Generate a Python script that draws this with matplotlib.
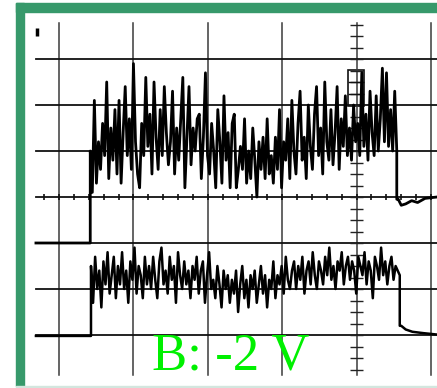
import numpy as np
import matplotlib
matplotlib.use('Agg')
import matplotlib.pyplot as plt
from matplotlib.patches import Rectangle

# scope screen, units are graticule divisions
# (x: 0 = first vertical line, y: 0 = centre line)
vlines_x = [0, 1, 2, 3, 4, 5]
hlines_y = [3, 2, 1, 0, -1, -2, -3]

# trace A (upper), baseline before / after the burst
a_start, a_end = 0.42, 4.54
a_base = -1.0
a_noise = [1.0, 0.1, 2.1, 0.3, 1.2, 0.6, 1.6, 0.9, 2.5, 0.4,
           1.5, 0.8, 1.9, 0.5, 2.1, 0.3, 1.4, 2.4, 0.9, 1.7,
           0.6, 2.9, 1.2, 0.5, 0.2, 1.6, 0.9, 2.6, 1.1, 1.8,
           0.5, 2.5, 1.3, 0.6, 1.9, 0.9, 2.4, 1.4, 0.7, 1.2,
           2.3, 0.5, 1.5, 0.8, 1.7, 2.6, 0.2, 1.3, 2.4, 0.7,
           1.5, 1.0, 1.7, 1.8, 0.4, 1.3, 2.7, 0.9, 0.5, 1.6,
           1.0, 0.2, 1.9, 1.2, 0.3, 2.2, 0.8, 1.4, 0.2, 1.6,
           1.8, 0.2, 0.6, 1.1, 0.6, 1.7, 0.3, 1.0, 0.4, 1.5,
           0.8, 0.0, 1.2, 0.6, 1.3, 0.4, 1.7, 0.5, 0.9, 0.3,
           1.3, 0.6, 1.9, 0.2, 1.2, 0.8, 1.7, 0.4, 2.1, 1.0,
           0.5, 1.6, 2.3, 0.8, 1.3, 0.4, 2.0, 1.1, 0.6, 1.8,
           2.4, 0.9, 1.5, 0.5, 2.5, 1.2, 0.8, 1.9, 0.7, 1.4,
           2.4, 0.6, 1.7, 1.1, 2.2, 0.9, 1.5, 0.8, 2.0, 1.2,
           1.6, 0.9, 2.7, 1.1, 1.8, 0.8, 2.3, 1.4, 0.9, 2.2,
           1.0, 1.7, 2.8, 1.2, 2.7, 1.1, 1.9, 1.0, 2.3, 1.0]
a_tail_x = [4.56, 4.60, 4.66, 4.74, 4.82, 4.92, 5.08]
a_tail_y = [-0.05, -0.18, -0.15, -0.08, -0.12, -0.03, 0.0]

# trace B (lower)
b_start, b_end = 0.43, 4.58
b_base = -3.02
b_noise = [-1.5, -2.3, -1.3, -2.0, -1.6, -2.4, -1.4, -1.9, -1.2, -2.1,
           -1.7, -1.3, -2.2, -1.5, -1.9, -1.2, -2.0, -1.6, -2.3, -1.4,
           -1.8, -1.1, -2.1, -1.5, -1.7, -2.2, -1.3, -1.9, -1.5, -2.0,
           -1.3, -1.8, -2.2, -1.4, -1.1, -1.9, -1.6, -2.1, -1.3, -1.8,
           -1.5, -2.3, -1.2, -1.7, -2.0, -1.4, -1.9, -1.6, -2.2, -1.5,
           -1.8, -1.3, -2.1, -1.6, -1.4, -2.3, -1.7, -1.2, -2.0, -1.8,
           -2.2, -1.5, -1.9, -2.4, -1.6, -2.0, -1.7, -2.3, -1.8, -2.1,
           -1.6, -2.5, -1.9, -1.5, -2.2, -1.8, -2.4, -1.7, -2.0, -1.6,
           -2.3, -1.9, -1.5, -2.1, -1.7, -2.4, -1.8, -2.0, -1.4, -2.2,
           -1.7, -1.9, -1.5, -2.1, -1.3, -1.8, -2.0, -1.6, -1.4, -2.0,
           -1.5, -1.8, -1.3, -2.1, -1.6, -1.4, -1.9, -1.2, -1.7, -2.0,
           -1.4, -1.6, -1.9, -1.3, -1.7, -1.1, -1.8, -1.5, -2.0, -1.4,
           -1.6, -1.2, -1.9, -1.5, -1.3, -1.8, -1.4, -1.6, -2.1, -1.3,
           -1.5, -1.7, -1.2, -1.9, -1.4, -1.6, -2.2, -1.3, -1.5, -1.8,
           -1.1, -1.7, -1.4, -1.9, -1.5, -1.3, -1.8, -1.5, -1.6, -1.7]
b_tail_x = [4.60, 4.66, 4.75, 4.90, 5.08]
b_tail_y = [-2.80, -2.88, -2.93, -2.96, -2.99]

label = 'B: -2 V'

W, H = 437, 388
fig = plt.figure(figsize=(W / 100, H / 100), dpi=100)
ax = fig.add_axes([0, 0, 1, 1])
ax.set_xlim(-59 / 74.4, (W - 59) / 74.4)
ax.set_ylim((197 - H) / 46, 197 / 46)
ax.axis('off')

# green frame
green = '#37996b'
fig.patches.append(Rectangle((16 / W, (H - 12) / H), 1 - 16 / W, 9 / H,
                             transform=fig.transFigure, color=green))
fig.patches.append(Rectangle((16 / W, 2 / H), 8 / W, (H - 5) / H,
                             transform=fig.transFigure, color=green))
fig.patches.append(Rectangle((16 / W, 0), 1 - 16 / W, 2 / H,
                             transform=fig.transFigure, color='#d3e6de'))

# graticule
top, bot, left = 3.78, -3.87, -0.31
for xv in vlines_x:
    ax.plot([xv, xv], [bot, top], color='#3a3a3a', lw=1.1)
for yh in hlines_y:
    ax.plot([left, 5.1], [yh, yh], color='#111111', lw=1.3)
tx = np.arange(-0.2, 5.05, 0.2)
ax.vlines(tx, -0.06, 0.06, color='#111111', lw=1.2)
ty = np.arange(-3.75, 3.8, 0.25)
ax.hlines(ty, 4 - 0.09, 4 + 0.09, color='#222222', lw=1.0)
ax.add_patch(Rectangle((3.88, 1.98), 0.22, 0.78, fill=False, ec='#111111', lw=1.2))
ax.hlines([2.5, 2.24], 3.88, 4.1, color='#111111', lw=1.0)
ax.plot([-0.29], [3.58], marker='|', ms=6, mew=2.5, color='k')

# traces
xa = np.linspace(a_start, a_end, len(a_noise))
ax.plot([left, a_start] + list(xa) + [a_end] + a_tail_x,
        [a_base, a_base] + a_noise + [a_tail_y[0]] + a_tail_y,
        color='k', lw=2.0)
xb = np.linspace(b_start, b_end, len(b_noise))
ax.plot([left, b_start] + list(xb) + [b_end] + b_tail_x,
        [b_base, b_base] + b_noise + [b_tail_y[0]] + b_tail_y,
        color='k', lw=1.8)

ax.text(1.25, -3.75, label, color='#00f000', fontsize=38,
        family='Liberation Serif', ha='left', va='baseline')

fig.savefig('out.png', dpi=100)
